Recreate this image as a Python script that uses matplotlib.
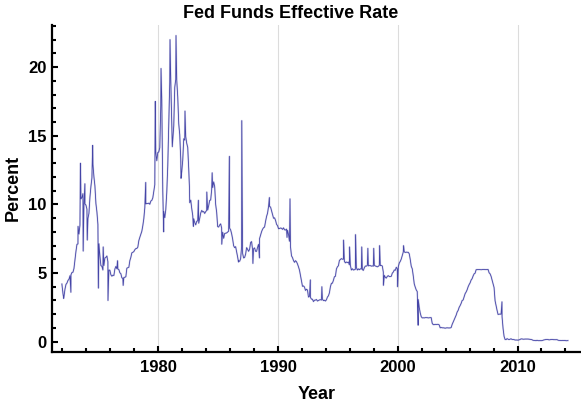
import numpy as np
import matplotlib.pyplot as plt
from matplotlib.ticker import MultipleLocator

# monthly effective rate, Jan 1972 .. Mar 2014 (percent)
first_year = 1972
monthly_rate = [
    3.50, 3.29, 3.83, 4.17, 4.27, 4.46, 4.55, 4.80, 4.87, 5.04, 5.06, 5.33,  # 1972
    5.94, 6.58, 7.09, 7.12, 7.84, 8.49, 10.40, 10.50, 10.78, 10.01, 10.03, 9.95,
    9.65, 8.97, 9.35, 10.51, 11.31, 11.93, 12.92, 12.01, 11.34, 10.06, 9.45, 8.53,
    7.13, 6.24, 5.54, 5.49, 5.22, 5.55, 6.10, 6.14, 6.24, 5.82, 5.22, 5.20,
    4.87, 4.77, 4.84, 4.82, 5.29, 5.48, 5.31, 5.29, 5.25, 5.02, 4.95, 4.65,
    4.61, 4.68, 4.69, 4.73, 5.35, 5.39, 5.42, 5.90, 6.14, 6.47, 6.51, 6.56,
    6.70, 6.78, 6.79, 6.89, 7.36, 7.60, 7.81, 8.04, 8.45, 8.96, 9.76, 10.03,
    10.07, 10.06, 10.09, 10.01, 10.24, 10.29, 10.47, 10.94, 11.43, 13.77, 13.18, 13.78,
    13.82, 14.13, 17.19, 17.61, 10.98, 9.47, 9.03, 9.61, 10.87, 12.81, 15.85, 18.90,  # 1980
    19.08, 15.93, 14.70, 15.72, 18.52, 19.10, 19.04, 17.82, 15.87, 15.08, 13.31, 12.37,
    13.22, 14.78, 14.68, 14.94, 14.45, 14.15, 12.59, 10.12, 10.31, 9.71, 9.20, 8.95,
    8.68, 8.51, 8.77, 8.80, 8.63, 8.98, 9.37, 9.56, 9.45, 9.48, 9.34, 9.47,
    9.56, 9.59, 9.91, 10.29, 10.32, 11.06, 11.23, 11.64, 11.30, 9.99, 9.43, 8.38,
    8.35, 8.50, 8.58, 8.27, 7.97, 7.53, 7.88, 7.90, 7.92, 7.99, 8.05, 8.27,
    8.14, 7.86, 7.48, 6.99, 6.85, 6.92, 6.56, 6.17, 5.89, 5.85, 6.04, 6.91,
    6.43, 6.10, 6.13, 6.37, 6.85, 6.73, 6.58, 6.73, 7.22, 7.29, 6.69, 6.77,
    6.83, 6.58, 6.58, 6.87, 7.09, 7.51, 7.75, 8.01, 8.19, 8.30, 8.35, 8.76,
    9.12, 9.36, 9.85, 9.84, 9.81, 9.53, 9.24, 8.99, 9.02, 8.84, 8.55, 8.45,
    8.23, 8.24, 8.28, 8.26, 8.18, 8.29, 8.15, 8.13, 8.20, 8.11, 7.81, 7.31,  # 1990
    6.91, 6.25, 6.12, 5.91, 5.78, 5.90, 5.82, 5.66, 5.45, 5.21, 4.81, 4.43,
    4.03, 4.06, 3.98, 3.73, 3.82, 3.76, 3.25, 3.30, 3.22, 3.10, 3.09, 2.92,
    3.02, 3.03, 3.07, 2.96, 3.00, 3.04, 3.06, 3.03, 3.09, 2.99, 3.02, 2.96,
    3.05, 3.25, 3.34, 3.56, 4.01, 4.25, 4.26, 4.47, 4.73, 4.76, 5.29, 5.45,
    5.53, 5.92, 5.98, 6.05, 6.01, 6.00, 5.85, 5.74, 5.80, 5.76, 5.80, 5.60,
    5.56, 5.22, 5.31, 5.22, 5.24, 5.27, 5.40, 5.22, 5.30, 5.24, 5.31, 5.29,
    5.25, 5.19, 5.39, 5.51, 5.50, 5.56, 5.52, 5.54, 5.54, 5.50, 5.52, 5.50,
    5.56, 5.51, 5.49, 5.45, 5.49, 5.56, 5.54, 5.55, 5.51, 5.07, 4.83, 4.68,
    4.63, 4.76, 4.81, 4.74, 4.74, 4.76, 4.99, 5.07, 5.22, 5.20, 5.42, 5.30,
    5.45, 5.73, 5.85, 6.02, 6.27, 6.53, 6.54, 6.50, 6.52, 6.51, 6.51, 6.40,  # 2000
    5.98, 5.49, 5.31, 4.80, 4.21, 3.97, 3.77, 3.65, 3.07, 2.49, 2.09, 1.82,
    1.73, 1.74, 1.73, 1.75, 1.75, 1.75, 1.73, 1.74, 1.75, 1.75, 1.34, 1.24,
    1.24, 1.26, 1.25, 1.26, 1.26, 1.22, 1.01, 1.03, 1.01, 1.01, 1.00, 0.98,
    1.00, 1.01, 1.00, 1.00, 1.00, 1.03, 1.26, 1.43, 1.61, 1.76, 1.93, 2.16,
    2.28, 2.50, 2.63, 2.79, 3.00, 3.04, 3.26, 3.50, 3.62, 3.78, 4.00, 4.16,
    4.29, 4.49, 4.59, 4.79, 4.94, 4.99, 5.24, 5.25, 5.25, 5.25, 5.25, 5.24,
    5.25, 5.26, 5.26, 5.25, 5.25, 5.25, 5.26, 5.02, 4.94, 4.76, 4.49, 4.24,
    3.94, 2.98, 2.61, 2.28, 1.98, 2.00, 2.01, 2.00, 1.81, 0.97, 0.39, 0.16,
    0.15, 0.22, 0.18, 0.15, 0.18, 0.21, 0.16, 0.16, 0.15, 0.12, 0.12, 0.12,
    0.11, 0.13, 0.16, 0.20, 0.20, 0.18, 0.18, 0.19, 0.19, 0.19, 0.19, 0.18,  # 2010
    0.17, 0.16, 0.14, 0.10, 0.09, 0.09, 0.07, 0.10, 0.08, 0.07, 0.08, 0.07,
    0.08, 0.10, 0.13, 0.14, 0.16, 0.16, 0.16, 0.13, 0.14, 0.16, 0.16, 0.16,
    0.14, 0.15, 0.14, 0.15, 0.11, 0.09, 0.09, 0.08, 0.08, 0.09, 0.08, 0.09,
    0.07, 0.07, 0.08,
]

# single-day spikes (decimal year, percent)
spike_year = [1971.95, 1972.1, 1972.7, 1973.3, 1973.5, 1973.73, 1973.87, 1974.07,
              1974.52, 1975.0, 1975.4, 1975.8, 1976.6, 1977.07, 1978.95, 1979.75,
              1980.23, 1980.45, 1980.98, 1981.17, 1981.48, 1981.9, 1982.23,
              1982.6, 1982.93, 1983.35, 1984.05, 1984.5, 1985.3, 1985.94, 1986.7,
              1986.97, 1987.9, 1988.45, 1989.28, 1990.75, 1991.0, 1992.7, 1993.66,
              1995.47, 1995.97, 1996.47, 1996.99, 1997.5, 1997.99, 1998.48,
              1998.8, 1999.98, 2000.48, 2001.7, 2008.7]
spike_rate = [4.2, 3.15, 3.6, 8.4, 13.0, 6.6, 11.5, 7.4,
              14.3, 3.9, 6.9, 3.0, 5.9, 4.1, 11.6, 17.5,
              19.9, 8.0, 22.0, 14.2, 22.3, 11.9, 16.8,
              11.3, 8.4, 10.3, 10.9, 12.3, 7.1, 13.5, 5.8,
              16.1, 5.7, 6.1, 10.5, 7.6, 10.4, 4.5, 4.0,
              7.4, 6.9, 7.8, 6.9, 6.8, 6.8, 7.0,
              4.1, 4.0, 7.0, 1.2, 2.9]

month_year = first_year + (np.arange(len(monthly_rate)) + 0.5) / 12.0
t = np.concatenate([month_year, spike_year])
r = np.concatenate([monthly_rate, spike_rate])
order = np.argsort(t)
t, r = t[order], r[order]

plt.rcParams['font.family'] = 'Liberation Sans'
plt.rcParams['font.weight'] = 'bold'

fig = plt.figure(figsize=(5.81, 4.04), dpi=100)
ax = fig.add_axes([0.089, 0.1295, 0.911, 0.8087])

for g in [1980, 1990, 2000, 2010]:
    ax.axvline(g, color='#dcdcdc', lw=0.8, zorder=0)

# light band under a thin line, like dense daily data
ax.plot(t, r, color='#4848a8', lw=1.3, alpha=0.22)
ax.plot(t, r, color='#3535a0', lw=0.6, alpha=0.9)

ax.set_xlim(1971.1, 2015.3)
ax.set_ylim(-0.73, 23.07)

ax.xaxis.set_major_locator(MultipleLocator(10))
ax.xaxis.set_minor_locator(MultipleLocator(2))
ax.yaxis.set_major_locator(MultipleLocator(5))
ax.yaxis.set_minor_locator(MultipleLocator(1))
ax.tick_params(which='both', direction='in', width=1.5, labelsize=12)
ax.tick_params(which='major', length=4)
ax.tick_params(which='minor', length=3)
ax.tick_params(axis='x', which='both', pad=6)

for s in ['top', 'right']:
    ax.spines[s].set_visible(False)
for s in ['left', 'bottom']:
    ax.spines[s].set_linewidth(1.6)

ax.set_xlabel('Year', fontsize=13, fontweight='bold', labelpad=8)
ax.set_ylabel('Percent', fontsize=13, fontweight='bold', labelpad=5)
fig.text(0.5, 0.955, 'Fed Funds Effective Rate', ha='center', fontsize=13,
         fontweight='bold')

fig.savefig('out.png', dpi=100)
